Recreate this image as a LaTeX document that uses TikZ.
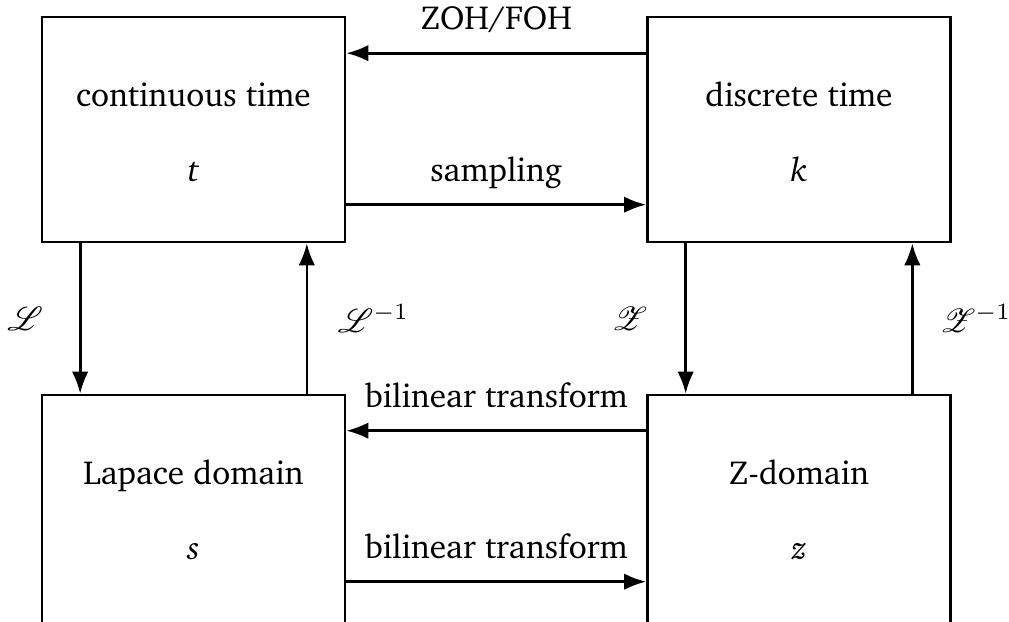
\documentclass[tikz,border=0pt]{standalone}
\usepackage[T1]{fontenc}
\usepackage{charter}
\usepackage{mathrsfs}
\usetikzlibrary{arrows.meta}
\tikzset{
  blockbox/.style={draw, line width=0.8pt, minimum width=90.9pt, minimum height=67.5pt, inner sep=0pt},
  lowbox/.style={blockbox, minimum height=68.4pt},
  boxtext/.style={anchor=base, inner sep=0pt},
  arr/.style={line width=0.8pt, -{Latex}},
  hlabel/.style={midway, anchor=base, inner sep=0pt, yshift=7pt},
  vlabel/.style={midway, anchor=center, inner sep=0pt}
}
\begin{document}
\begin{tikzpicture}[x=0.3pt,y=-0.3pt]
\useasboundingbox (0,0) rectangle (1009,621);
\node[blockbox] (ct) at (193.5,129.5) {};
\node[blockbox] (dt) at (799,129.5) {};
\node[lowbox] (ld) at (193.5,509) {};
\node[lowbox] (zd) at (799,509) {};

\node[boxtext] (ct1) at ([yshift=-27.3pt]ct.north) {continuous time};
\node[boxtext] (ct2) at ([yshift=-49.7pt]ct.north) {\textit{t}};
\node[boxtext] (dt1) at ([yshift=-27.3pt]dt.north) {discrete time};
\node[boxtext] (dt2) at ([yshift=-49.7pt]dt.north) {\textit{k}};
\node[boxtext] (ld1) at ([yshift=-27.3pt]ld.north) {Lapace domain};
\node[boxtext] (ld2) at ([yshift=-49.7pt]ld.north) {\textit{s}};
\node[boxtext] (zd1) at ([yshift=-27.3pt]zd.north) {Z-domain};
\node[boxtext] (zd2) at ([yshift=-49.7pt]zd.north) {\textit{z}};

\draw[arr] ([yshift=-11.25pt]dt.north west) -- node[hlabel] (l1) {ZOH/FOH} ([yshift=-11.25pt]ct.north east);
\draw[arr] ([yshift=-56.7pt]ct.north east) -- node[hlabel] (l2) {sampling} ([yshift=-56.7pt]dt.north west);
\draw[arr] ([yshift=-11.1pt]zd.north west) -- node[hlabel] (l3) {bilinear transform} ([yshift=-11.1pt]ld.north east);
\draw[arr] ([yshift=-56.4pt]ld.north east) -- node[hlabel] (l4) {bilinear transform} ([yshift=-56.4pt]zd.north west);

\draw[arr] ([xshift=-34pt]ct.south) -- node[vlabel, xshift=-16.5pt] (l5) {$\mathscr{L}$} ([xshift=-34pt]ld.north);
\draw[arr] ([xshift=34pt]ld.north) -- node[vlabel, xshift=20pt] (l6) {$\mathscr{L}^{-1}$} ([xshift=34pt]ct.south);
\draw[arr] ([xshift=-34pt]dt.south) -- node[vlabel, xshift=-16.8pt] (l7) {$\mathscr{Z}$} ([xshift=-34pt]zd.north);
\draw[arr] ([xshift=34pt]zd.north) -- node[vlabel, xshift=19pt] (l8) {$\mathscr{Z}^{-1}$} ([xshift=34pt]dt.south);
\end{tikzpicture}
\end{document}
